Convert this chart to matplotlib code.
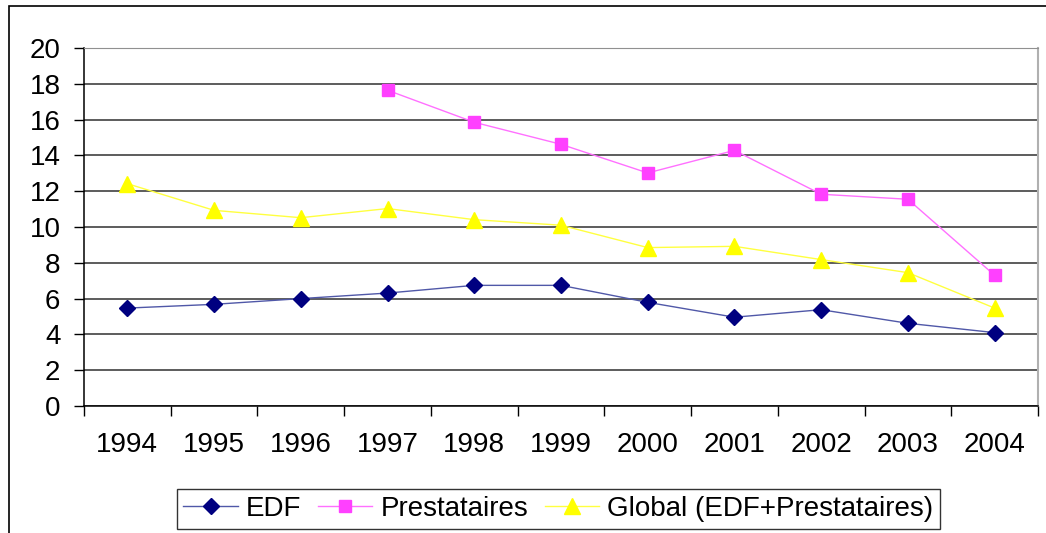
import numpy as np
import matplotlib
matplotlib.use('Agg')
import matplotlib.pyplot as plt
from matplotlib.patches import Rectangle

plt.rcParams['font.family'] = ['Liberation Sans', 'DejaVu Sans']

years = ['1994', '1995', '1996', '1997', '1998', '1999', '2000', '2001', '2002', '2003', '2004']
edf = [5.47, 5.68, 6.0, 6.31, 6.74, 6.74, 5.79, 4.96, 5.38, 4.62, 4.1]
prestataires = [np.nan, np.nan, np.nan, 17.64, 15.85, 14.62, 13.02, 14.28, 11.83, 11.55, 7.3]
global_tot = [12.42, 10.93, 10.52, 11.03, 10.41, 10.1, 8.85, 8.92, 8.18, 7.45, 5.47]

W, H = 1046, 533
fig = plt.figure(figsize=(W / 100, H / 100), dpi=100)
# plot area in pixels: left 84, right 1038, top 48, bottom 406
ax = fig.add_axes([84 / W, 1 - 406 / H, (1038 - 84) / W, (406 - 48) / H])

# outer chart border (extends past the image on right and bottom)
fig.patches.append(Rectangle((9 / W, -0.1), 1.2, 1 - 6 / H + 0.1, transform=fig.transFigure,
                             fill=False, edgecolor='black', linewidth=1.2))

x = np.arange(len(years))

ax.plot(x, edf, color='#5058a8', lw=1.0, marker='D', ms=8.5,
        mfc='#000080', mec='#000080', label='EDF', zorder=5)
ax.plot(x, prestataires, color='#ff70ff', lw=1.0, marker='s', ms=8,
        mfc='#ff40ff', mec='#ff40ff', label='Prestataires', zorder=5)
ax.plot(x, global_tot, color='#ffff40', lw=1.0, marker='^', ms=11,
        mfc='#ffff00', mec='#ffff00', label='Global (EDF+Prestataires)', zorder=4)

ax.set_ylim(0, 20)
ax.set_yticks(np.arange(0, 21, 2))
ax.set_xlim(-0.5, len(years) - 0.5)
ax.set_xticks(x)
ax.set_xticklabels(years)
ax.set_xticks(np.arange(-0.5, len(years), 1), minor=True)

ax.grid(axis='y', color='#303030', lw=1.1, zorder=1)
ax.tick_params(axis='y', direction='out', length=7, width=1, pad=10, labelsize=20)
ax.tick_params(axis='x', which='major', length=0, pad=19, labelsize=20)
ax.tick_params(axis='x', which='minor', direction='out', length=7, width=1)

for side in ['left', 'bottom']:
    ax.spines[side].set_color('black')
    ax.spines[side].set_linewidth(1.1)
ax.spines['top'].set_color('#909090')
ax.spines['right'].set_color('#b0b0b0')
ax.spines['right'].set_linewidth(1.5)

leg = fig.legend(loc='center', bbox_to_anchor=(558.5 / W, 1 - 509 / H), ncol=3,
                 fontsize=20, frameon=True, fancybox=False, edgecolor='black',
                 handlelength=1.95, handletextpad=0.3, columnspacing=0.6,
                 borderpad=0.25)
leg.get_frame().set_linewidth(1.0)

fig.savefig('out.png', dpi=100)
